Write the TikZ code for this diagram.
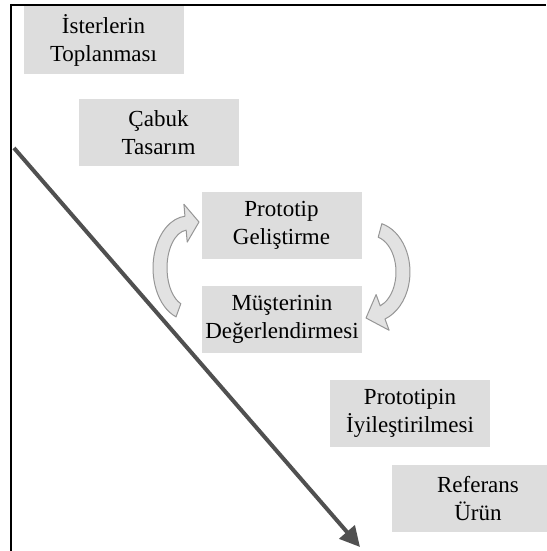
\documentclass[tikz,border=0pt]{standalone}
\usepackage{fontspec}
\setmainfont{Liberation Serif}
\usetikzlibrary{arrows.meta}
\definecolor{boxgray}{RGB}{221,221,221}
\definecolor{trendgray}{RGB}{80,80,80}
\definecolor{loopfill}{RGB}{226,226,226}
\definecolor{loopline}{RGB}{150,150,150}
\tikzset{
  stage/.style={fill=boxgray, minimum width=160pt, minimum height=67pt, inner sep=0pt,
    align=center, font=\fontsize{23}{28}\selectfont},
  cyclearrow/.style={fill=loopfill, draw=loopline, line width=1pt, line join=round},
}
\begin{document}
\begin{tikzpicture}[x=1pt,y=-1pt]
\useasboundingbox (0,0) rectangle (546,551);
\draw[line width=2.5pt] (10,5) -- (546,5);
\draw[line width=2.5pt] (11,4) -- (11,551);

\node[stage] (isterler) at (103.5,40) {İsterlerin\\Toplanması};
\node[stage] (tasarim) at (158.5,132.5) {Çabuk\\Tasarım};
\node[stage] (gelistirme) at (281.5,225.5) {Prototip\\Geliştirme};
\node[stage] (musteri) at (282,319) {Müşterinin\\Değerlendirmesi};
\node[stage] (iyilestirme) at (410,413.5) {Prototipin\\İyileştirilmesi};
\node[stage, minimum width=172pt] (urun) at (478,498.5) {Referans\\Ürün};

% trend arrow
\coordinate (trendtop) at (14,148);
\coordinate (trendtip) at (360,547);
\draw[trendgray, line width=4pt, -{Triangle[length=20pt,width=20pt]}] (trendtop) -- (trendtip);

% loop arrows
\filldraw[cyclearrow, shift={(188,268)}] (110:21 and 38) -- (110:35 and 52)
  arc[start angle=110, end angle=265, x radius=35, y radius=52]
  -- (265:47 and 64) -- (11,-46) -- (265:9 and 26) -- (265:21 and 38)
  arc[start angle=265, end angle=110, x radius=21, y radius=38] -- cycle;
\filldraw[cyclearrow, shift={(372,272)}] (285:24 and 36) -- (285:38 and 50)
  arc[start angle=285, end angle=430, x radius=38, y radius=50]
  -- (70:50 and 62) -- (-6,46) -- (70:12 and 24) -- (70:24 and 36)
  arc[start angle=430, end angle=285, x radius=24, y radius=36] -- cycle;

\end{tikzpicture}
\end{document}
